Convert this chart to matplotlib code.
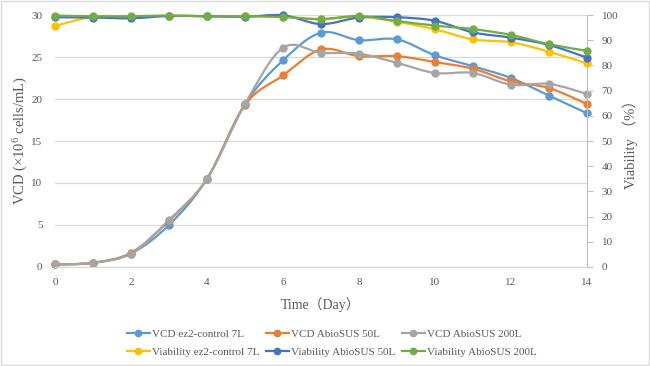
"""Cell growth (VCD) and viability over culture time, two y axes."""

import matplotlib
matplotlib.use("Agg")
import matplotlib.pyplot as plt
import numpy as np
from matplotlib.lines import Line2D
from matplotlib.patches import PathPatch, Rectangle
from matplotlib.path import Path

plt.rcParams["font.family"] = ["Liberation Serif", "Noto Sans CJK SC", "DejaVu Sans"]
plt.rcParams["mathtext.fontset"] = "custom"
plt.rcParams["mathtext.rm"] = "Liberation Serif"
plt.rcParams["mathtext.default"] = "regular"

days = list(range(15))

vcd_ez2_7l = [0.3, 0.5, 1.6, 5.0, 10.5, 19.4, 24.6, 27.9, 27.0, 27.1, 25.2, 23.9, 22.5, 20.4, 18.3]
vcd_abio_50l = [0.3, 0.5, 1.7, 5.5, 10.5, 19.3, 22.8, 25.9, 25.1, 25.1, 24.4, 23.6, 22.1, 21.3, 19.4]
vcd_abio_200l = [0.3, 0.5, 1.6, 5.6, 10.5, 19.4, 26.1, 25.5, 25.4, 24.3, 23.1, 23.1, 21.7, 21.8, 20.6]

via_ez2_7l = [95.6, 99.3, 99.4, 99.7, 99.5, 99.6, 99.3, 98.3, 99.3, 97.3, 94.3, 90.3, 89.2, 85.4, 80.8]
via_abio_50l = [99.1, 99.0, 98.7, 99.6, 99.5, 99.3, 99.9, 96.4, 99.0, 99.1, 97.7, 93.1, 91.0, 88.1, 83.1]
via_abio_200l = [99.8, 99.5, 99.5, 99.8, 99.5, 99.5, 99.2, 98.4, 99.6, 97.6, 95.8, 94.4, 92.1, 88.4, 85.8]

vcd_labels = ["VCD ez2-control 7L", "VCD AbioSUS 50L", "VCD AbioSUS 200L"]
via_labels = ["Viability ez2-control 7L", "Viability AbioSUS 50L", "Viability AbioSUS 200L"]
vcd_colors = ["#5B9BD5", "#ED7D31", "#A5A5A5"]
via_colors = ["#FFC000", "#4472C4", "#70AD47"]

TXT = "#595959"


def smooth_line(ax, x, y, color, lw=1.6):
    """Excel-style smoothed line through the points (cubic Bezier segments)."""
    p = np.column_stack([x, y]).astype(float)
    n = len(p)
    verts = [p[0]]
    codes = [Path.MOVETO]
    for i in range(n - 1):
        p0 = p[i - 1] if i > 0 else p[i]
        p3 = p[i + 2] if i + 2 < n else p[i + 1]
        c1 = p[i] + (p[i + 1] - p0) / 6.0
        c2 = p[i + 1] - (p3 - p[i]) / 6.0
        verts += [c1, c2, p[i + 1]]
        codes += [Path.CURVE4] * 3
    ax.add_patch(PathPatch(Path(verts, codes), fill=False, edgecolor=color,
                           lw=lw, capstyle="round", joinstyle="round",
                           clip_on=False))


fig = plt.figure(figsize=(6.5, 3.66), dpi=100)
fig.patches.append(Rectangle((0.001, 0.002), 0.997, 0.995, transform=fig.transFigure,
                             fill=False, edgecolor="#D9D9D9", lw=1.0))
ax = fig.add_axes([0.0846, 0.2705, 0.8185, 0.6885])
ax2 = ax.twinx()

for ys, c in zip([vcd_ez2_7l, vcd_abio_50l, vcd_abio_200l], vcd_colors):
    smooth_line(ax, days, ys, c)
    ax.plot(days, ys, ls="none", marker="o", ms=5, color=c, clip_on=False, zorder=3)

for ys, c in zip([via_ez2_7l, via_abio_50l, via_abio_200l], via_colors):
    smooth_line(ax2, days, ys, c)
    ax2.plot(days, ys, ls="none", marker="o", ms=5, color=c, clip_on=False, zorder=3)

ax.set_xlim(0, 14)
ax.set_ylim(0, 30)
ax.set_xticks(range(0, 15, 2))
ax.set_yticks(range(0, 31, 5))
ax2.set_ylim(0, 100)
ax2.set_yticks(range(0, 101, 10))

ax.grid(axis="y", color="#D9D9D9", lw=0.9)
ax.set_axisbelow(True)
for a in (ax, ax2):
    for s in ("top", "left", "right"):
        a.spines[s].set_visible(False)
    a.spines["bottom"].set_color("#D9D9D9")
ax2.spines["right"].set_visible(True)
ax2.spines["right"].set_color("#BFBFBF")
ax.tick_params(axis="y", length=0, labelsize=8, labelcolor=TXT, pad=9)
ax.tick_params(axis="x", length=0, labelsize=8, labelcolor=TXT, pad=8)
ax2.tick_params(axis="y", length=4, color="#BFBFBF", labelsize=8, labelcolor=TXT, pad=6.5)

ax.set_xlabel("Time（Day）", fontsize=10, color=TXT, labelpad=7)
ax.set_ylabel("VCD (×10$^{6}$ cells/mL)", fontsize=10.5, color=TXT, labelpad=1)
ax2.set_ylabel("Viability （%）", fontsize=10.5, color=TXT, labelpad=3)

handles = []
for c, lab in zip(vcd_colors + via_colors, vcd_labels + via_labels):
    handles.append(Line2D([], [], color=c, lw=1.6, marker="o", ms=4.5, label=lab))
order = [0, 3, 1, 4, 2, 5]
fig.legend([handles[i] for i in order], [handles[i].get_label() for i in order],
           loc="center", bbox_to_anchor=(0.51, 0.063), ncol=3, frameon=False,
           fontsize=8, labelcolor=TXT, handlelength=2.1, handletextpad=0.15,
           columnspacing=0.6, labelspacing=0.75)

fig.savefig("out.png", dpi=100)
